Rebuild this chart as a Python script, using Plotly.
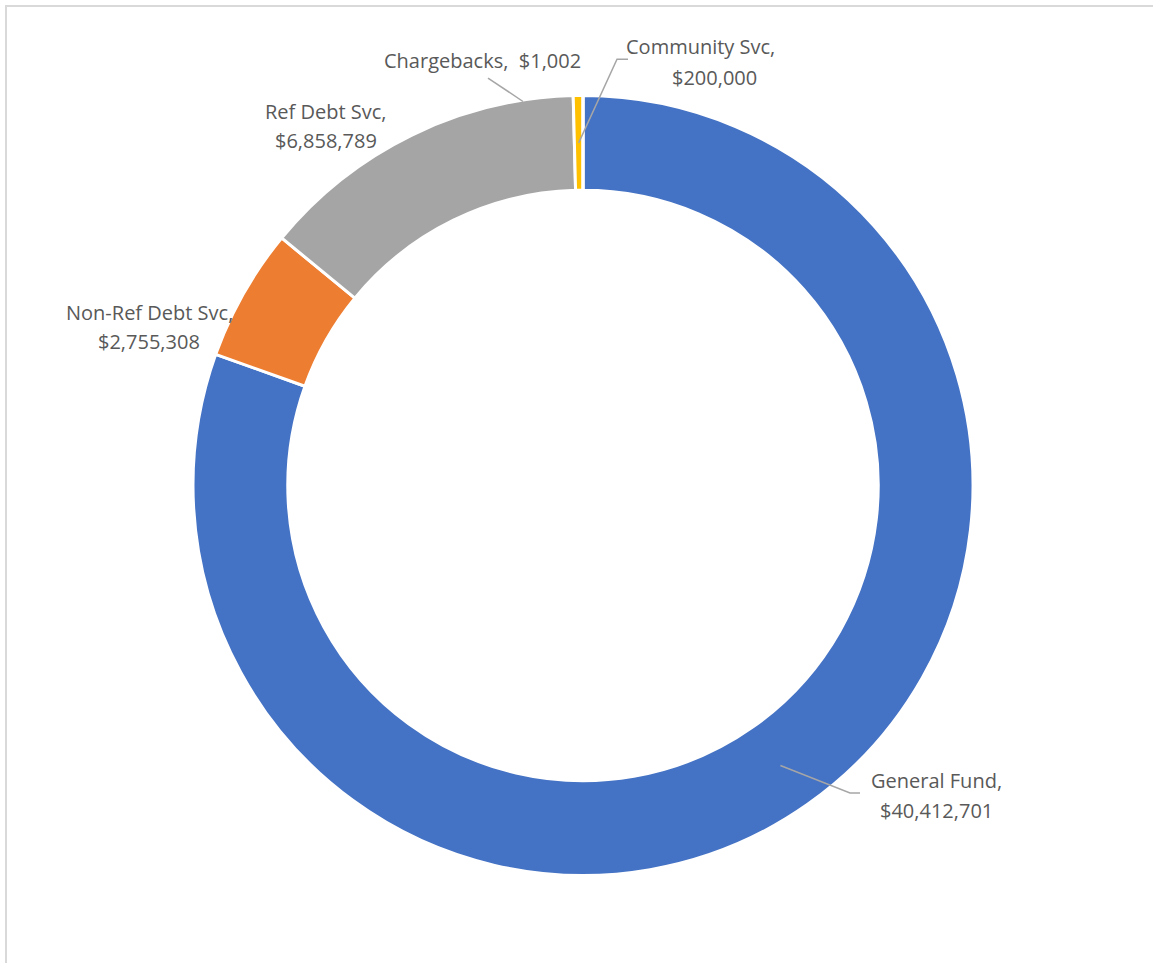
import math
import plotly.graph_objects as go

# ---- data ----
categories = ["General Fund", "Non-Ref Debt Svc", "Ref Debt Svc", "Community Svc", "Chargebacks"]
values = [40412701, 2755308, 6858789, 200000, 1002]
colors = ["#4472C4", "#ED7D31", "#A5A5A5", "#FFC000", "#5B9BD5"]
label_names = ["General Fund,", "Non-Ref Debt Svc,", "Ref Debt Svc,", "Community Svc,", "Chargebacks,"]
label_values = ["$40,412,701", "$2,755,308", "$6,858,789", "$200,000", "$1,002"]

W, H = 1153, 963
CX, CY, R_OUT = 583, 485.5, 390
HOLE = 0.757
TEXT_COLOR = "#595959"
FONT = "Open Sans"
FS = 20

def px(x):
    return x / W

def py(y):
    return 1 - y / H

fig = go.Figure(go.Pie(
    labels=categories,
    values=values,
    sort=False,
    direction="clockwise",
    rotation=0,
    hole=HOLE,
    marker=dict(colors=colors, line=dict(color="white", width=3)),
    textinfo="none",
    hoverinfo="label+value",
    showlegend=False,
    domain=dict(x=[px(CX - R_OUT), px(CX + R_OUT)], y=[py(CY + R_OUT), py(CY - R_OUT)]),
))

# label placement (pixel centres of each text line)
pos = {
    "General Fund": [(936, 780, 0), (936, 810, 1)],
    "Non-Ref Debt Svc": [(149, 312.5, 0), (149.5, 341, 1)],
    "Ref Debt Svc": [(325.5, 111, 0), (325.5, 140.5, 1)],
    "Community Svc": [(700, 46.5, 0), (714, 77, 1)],
}
annotations = []
for i, cat in enumerate(categories):
    if cat == "Chargebacks":
        continue
    for (x, y, k) in pos[cat]:
        annotations.append(dict(
            x=px(x), y=py(y), xref="paper", yref="paper",
            text=label_names[i] if k == 0 else label_values[i],
            showarrow=False, xanchor="center", yanchor="middle",
            font=dict(family=FONT, size=FS, color=TEXT_COLOR),
        ))
ci = categories.index("Chargebacks")
annotations.append(dict(
    x=px(482), y=py(60.5), xref="paper", yref="paper",
    text=label_names[ci] + "\u00a0 " + label_values[ci],
    showarrow=False, xanchor="center", yanchor="middle",
    font=dict(family=FONT, size=FS, color=TEXT_COLOR),
))

# leader lines, starting at the mid-angle of the slice on the ring centre
total = sum(values)
cum = 0
mid_angle = {}
for c, v in zip(categories, values):
    mid_angle[c] = (cum + v / 2) / total * 2 * math.pi
    cum += v
r_mid = R_OUT * (1 + HOLE) / 2

def ring_point(cat):
    a = mid_angle[cat]
    return CX + r_mid * math.sin(a), CY - r_mid * math.cos(a)

LEADER = "#A6A6A6"
shapes = []
def polyline(pts):
    path = "M " + " L ".join(f"{px(x):.5f},{py(y):.5f}" for x, y in pts)
    shapes.append(dict(type="path", path=path, xref="paper", yref="paper",
                       line=dict(color=LEADER, width=1.5)))

gx, gy = ring_point("General Fund")
polyline([(gx, gy), (850, 793), (860, 793)])
cx_, cy_ = ring_point("Community Svc")
polyline([(cx_, cy_), (617, 59.3), (628, 59.3)])
polyline([(523, 101.5), (488, 78)])

# chart border (light gray frame)
shapes.append(dict(type="rect", xref="paper", yref="paper",
                   x0=px(6), x1=px(W + 20), y0=py(H + 20), y1=py(6),
                   line=dict(color="#D9D9D9", width=2), fillcolor="rgba(0,0,0,0)"))

fig.update_layout(
    width=W, height=H,
    margin=dict(l=0, r=0, t=0, b=0),
    paper_bgcolor="white", plot_bgcolor="white",
    annotations=annotations, shapes=shapes,
)
fig.write_html("out.html")
